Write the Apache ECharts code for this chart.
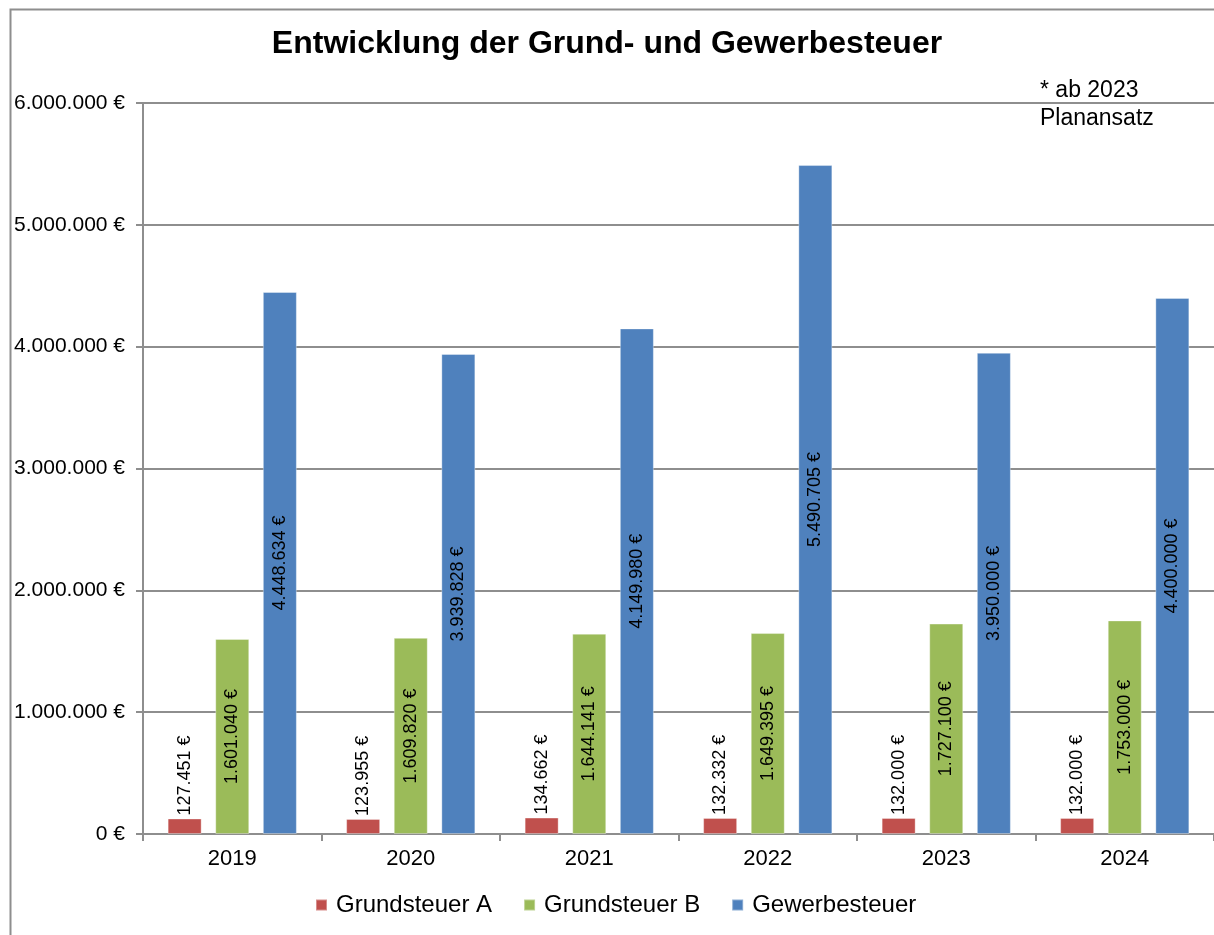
<!DOCTYPE html>
<html>
<head>
<meta charset="utf-8">
<title>Entwicklung der Grund- und Gewerbesteuer</title>
<script src="https://cdn.jsdelivr.net/npm/echarts@6/dist/echarts.min.js"></script>
<style>
  html, body { margin: 0; padding: 0; background: #fff; }
  #chart { width: 1214px; height: 935px; }
</style>
</head>
<body>
<div id="chart"></div>
<script>
  // Daten
  const years = ['2019', '2020', '2021', '2022', '2023', '2024'];
  const grundsteuerA = [127451, 123955, 134662, 132332, 132000, 132000];
  const grundsteuerB = [1601040, 1609820, 1644141, 1649395, 1727100, 1753000];
  const gewerbesteuer = [4448634, 3939828, 4149980, 5490705, 3950000, 4400000];
  const yTicks = [0, 1000000, 2000000, 3000000, 4000000, 5000000, 6000000];

  const FONT = '"Liberation Sans", Arial, sans-serif';
  const GRID_COLOR = '#8e8e8e';

  // 1234567 -> "1.234.567 €"
  function euro(v) {
    return String(Math.round(v)).replace(/\B(?=(\d{3})+(?!\d))/g, '.') + ' €';
  }

  const chart = echarts.init(document.getElementById('chart'));

  const labelBase = {
    show: true,
    rotate: 90,
    color: '#000',
    fontSize: 18,
    fontFamily: FONT,
    formatter: p => euro(p.value)
  };

  const option = {
    animation: false,
    backgroundColor: '#fff',
    title: {
      text: 'Entwicklung der Grund- und Gewerbesteuer',
      left: 'center',
      top: 23,
      textStyle: { fontSize: 32, fontWeight: 'bold', color: '#000', fontFamily: FONT }
    },
    legend: {
      data: ['Grundsteuer A', 'Grundsteuer B', 'Gewerbesteuer'],
      left: 310,
      top: 888,
      icon: 'rect',
      itemWidth: 11,
      itemHeight: 11,
      itemGap: 31,
      textStyle: { fontSize: 24, color: '#000', fontFamily: FONT, padding: [0, 0, 0, 4] }
    },
    grid: {
      left: 143,
      top: 103,
      width: 1074,
      height: 731,
      containLabel: false
    },
    xAxis: {
      type: 'category',
      data: years,
      axisLine: { lineStyle: { color: GRID_COLOR, width: 2 } },
      axisTick: { show: true, length: 7, lineStyle: { color: GRID_COLOR, width: 2 } },
      axisLabel: { fontSize: 22, color: '#000', fontFamily: FONT, margin: 14 }
    },
    yAxis: {
      type: 'value',
      min: yTicks[0],
      max: yTicks[yTicks.length - 1],
      interval: 1000000,
      axisLine: { show: true, lineStyle: { color: GRID_COLOR, width: 2 } },
      axisTick: { show: true, inside: false, length: 7, lineStyle: { color: GRID_COLOR, width: 2 } },
      splitLine: { show: true, lineStyle: { color: GRID_COLOR, width: 2 } },
      axisLabel: {
        fontSize: 21,
        color: '#000',
        fontFamily: FONT,
        margin: 18,
        formatter: v => euro(v)
      }
    },
    series: [
      {
        name: 'Grundsteuer A',
        type: 'bar',
        data: grundsteuerA,
        barWidth: 34,
        barGap: '40%',
        itemStyle: { color: '#C0504D', borderColor: 'rgba(255,255,255,0.35)', borderWidth: 1 },
        label: Object.assign({}, labelBase, {
          position: 'top',
          align: 'left',
          verticalAlign: 'middle',
          distance: 3
        })
      },
      {
        name: 'Grundsteuer B',
        type: 'bar',
        data: grundsteuerB,
        barWidth: 34,
        barGap: '40%',
        itemStyle: { color: '#9BBB59', borderColor: 'rgba(255,255,255,0.35)', borderWidth: 1 },
        label: Object.assign({}, labelBase, { position: 'inside' })
      },
      {
        name: 'Gewerbesteuer',
        type: 'bar',
        data: gewerbesteuer,
        barWidth: 34,
        barGap: '40%',
        itemStyle: { color: '#4F81BD', borderColor: 'rgba(255,255,255,0.35)', borderWidth: 1 },
        label: Object.assign({}, labelBase, { position: 'inside' })
      }
    ],
    graphic: [
      {
        // Rahmen des Diagramms
        type: 'rect',
        left: 8,
        top: 7,
        z: -1,
        shape: { width: 1300, height: 1000 },
        style: { fill: 'none', stroke: GRID_COLOR, lineWidth: 2 }
      },
      {
        type: 'text',
        x: 1040,
        y: 91,
        style: { text: '* ab 2023', fontSize: 23, fontFamily: FONT, fill: '#000', verticalAlign: 'middle' }
      },
      {
        type: 'text',
        x: 1040,
        y: 119,
        style: { text: 'Planansatz', fontSize: 23, fontFamily: FONT, fill: '#000', verticalAlign: 'middle' }
      }
    ]
  };

  chart.setOption(option);
</script>
</body>
</html>
